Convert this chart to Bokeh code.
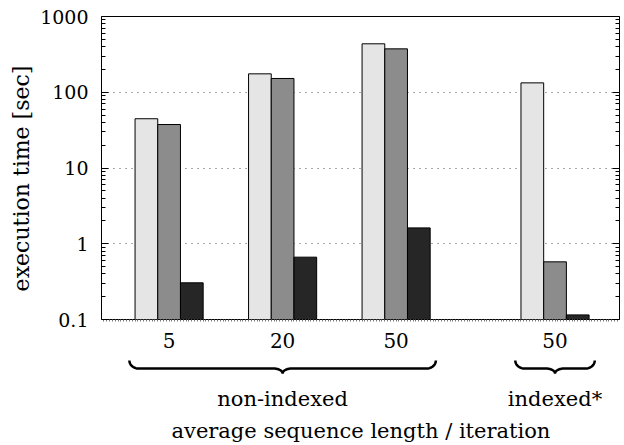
import numpy as np
from bokeh.plotting import figure
from bokeh.models import Range1d, FixedTicker, CustomJSTickFormatter, LogAxis
from bokeh.layouts import column, row
from bokeh.core.properties import value
from bokeh.embed import file_html
from bokeh.resources import INLINE

# ---- data ----
group_labels = ["5", "20", "50", "50"]
group_sets = ["non-indexed", "non-indexed", "non-indexed", "indexed*"]
series_a = [44.7, 175.0, 436.0, 133.0]     # light bars
series_b = [37.5, 152.0, 374.0, 0.577]     # medium bars
series_c = [0.305, 0.665, 1.62, 0.115]     # dark bars
y_ticks = [0.1, 1, 10, 100, 1000]
y_title = "execution time [sec]"
x_title = "average sequence length / iteration"

# ---- layout / style ----
FONT = "DejaVu Serif"
LW = 36           # width of the strip holding the y title
W = 624 - LW
TOP_H = 359
BOT_H = 86
MBL = 101 - LW
group_x = [3, 8, 13, 20]
colors = ["#e5e5e5", "#8c8c8c", "#262626"]

p = figure(width=W, height=TOP_H, x_range=Range1d(0.022, 22.84),
           y_range=Range1d(0.1, 1000), y_axis_type="log",
           output_backend="svg", toolbar_location=None,
           min_border_left=MBL, min_border_right=5, min_border_top=16,
           min_border_bottom=40)
p.background_fill_color = "white"
p.border_fill_color = "white"
p.outline_line_color = "black"
p.outline_line_width = 1
p.outline_line_alpha = 1

minor = [m * 10.0 ** e for e in range(-1, 3) for m in range(2, 10)]
yticker = FixedTicker(ticks=y_ticks, minor_ticks=minor)

# bars
for k, (vals, col) in enumerate(zip([series_a, series_b, series_c], colors)):
    xs = [g + (k - 1) for g in group_x]
    p.vbar(x=xs, top=vals, bottom=0.05, width=1.0, fill_color=col,
           line_color="black", line_width=1)

# grid
p.xgrid.visible = False
p.ygrid.ticker = yticker
p.ygrid.grid_line_color = "#555555"
p.ygrid.grid_line_dash = "1 5"
p.ygrid.grid_line_width = 1

# left y axis (tick labels only; title drawn in its own strip)
ya = p.yaxis[0]
ya.ticker = yticker
ya.formatter = CustomJSTickFormatter(code="return tick.toString();")
ya.axis_line_color = None
ya.major_tick_in = 7
ya.major_tick_out = 0
ya.minor_tick_in = 4
ya.minor_tick_out = 0
ya.major_tick_line_color = "black"
ya.minor_tick_line_color = "black"
ya.major_label_standoff = 13
ya.major_label_text_font = FONT
ya.major_label_text_font_size = "19px"
ya.major_label_text_color = "black"

# right mirrored y axis (ticks only)
ra = LogAxis(ticker=yticker, formatter=CustomJSTickFormatter(code="return '';"))
ra.axis_line_color = None
ra.major_tick_in = 7
ra.major_tick_out = 0
ra.minor_tick_in = 4
ra.minor_tick_out = 0
ra.major_label_standoff = 0
ra.major_label_text_font_size = "0px"
ra.major_tick_line_color = "black"
ra.minor_tick_line_color = "black"
p.add_layout(ra, "right")

# x axis
xa = p.xaxis[0]
xa.ticker = FixedTicker(ticks=group_x,
                        minor_ticks=list(np.arange(0.0, 22.9, 0.125)))
xa.formatter = CustomJSTickFormatter(
    args=dict(pos=group_x, labs=group_labels),
    code="const i = pos.indexOf(tick); return i >= 0 ? labs[i] : '';")
xa.axis_line_color = None
xa.major_tick_in = 0
xa.major_tick_out = 0
xa.minor_tick_in = 0
xa.minor_tick_out = 2
xa.minor_tick_line_color = "#777777"
xa.major_label_standoff = 11
xa.major_label_text_font = FONT
xa.major_label_text_font_size = "20px"
xa.major_label_text_color = "black"

# ---- bottom strip: braces + group names + x title ----
p2 = figure(width=W, height=BOT_H, x_range=p.x_range, y_range=Range1d(0, BOT_H),
            output_backend="svg", toolbar_location=None,
            x_axis_location=None, y_axis_location=None,
            min_border_left=MBL, min_border_right=5, min_border_top=0,
            min_border_bottom=0)
p2.outline_line_color = None
p2.background_fill_color = "white"
p2.border_fill_color = "white"
p2.grid.grid_line_color = None


def brace(xa_, xb_, yt=85.0, ym=77.0, yp=72.0, rx=0.4):
    xc = 0.5 * (xa_ + xb_)
    h1 = yt - ym
    h2 = ym - yp
    t1 = np.linspace(np.pi, 1.5 * np.pi, 12)
    x1 = xa_ + rx + rx * np.cos(t1)
    y1 = yt + h1 * np.sin(t1)
    t2 = np.linspace(0.5 * np.pi, 0.0, 12)
    x2 = xc - rx + rx * np.cos(t2)
    y2 = yp + h2 * np.sin(t2)
    xl = np.concatenate([x1, x2])
    yl = np.concatenate([y1, y2])
    xr = (2 * xc - xl)[::-1]
    yr = yl[::-1]
    return list(np.concatenate([xl, xr])), list(np.concatenate([yl, yr]))


sets = []
for s in group_sets:
    if s not in sets:
        sets.append(s)
bx, by, cx = [], [], []
for s in sets:
    gx = [g for g, gs in zip(group_x, group_sets) if gs == s]
    xa_, xb_ = min(gx) - 1.5 - 0.25, max(gx) + 1.5 + 0.25
    xs, ys = brace(xa_, xb_)
    bx.append(xs)
    by.append(ys)
    cx.append(0.5 * (xa_ + xb_))

p2.multi_line(xs=bx, ys=by, line_color="black", line_width=2.5)
p2.text(x=cx, y=[47] * len(cx), text=sets, text_font=value(FONT),
        text_font_size="21px", text_align="center", text_baseline="alphabetic",
        text_color="black")
p2.text(x=[11.45], y=[15], text=[x_title], text_font=value(FONT),
        text_font_size="21px", text_align="center", text_baseline="alphabetic",
        text_color="black")

# ---- left strip: y title ----
H = TOP_H + BOT_H
pl = figure(width=LW, height=H, x_range=Range1d(0, LW), y_range=Range1d(0, H),
            output_backend="svg", toolbar_location=None,
            x_axis_location=None, y_axis_location=None,
            min_border=0)
pl.outline_line_color = None
pl.background_fill_color = "white"
pl.border_fill_color = "white"
pl.grid.grid_line_color = None
pl.text(x=[21], y=[H - 178], text=[y_title], angle=np.pi / 2,
        text_font=value(FONT), text_font_size="22px", text_align="center",
        text_baseline="middle", text_color="black")

layout = row(pl, column(p, p2, spacing=0), spacing=0)
open("out.html", "w").write(file_html(layout, INLINE))
